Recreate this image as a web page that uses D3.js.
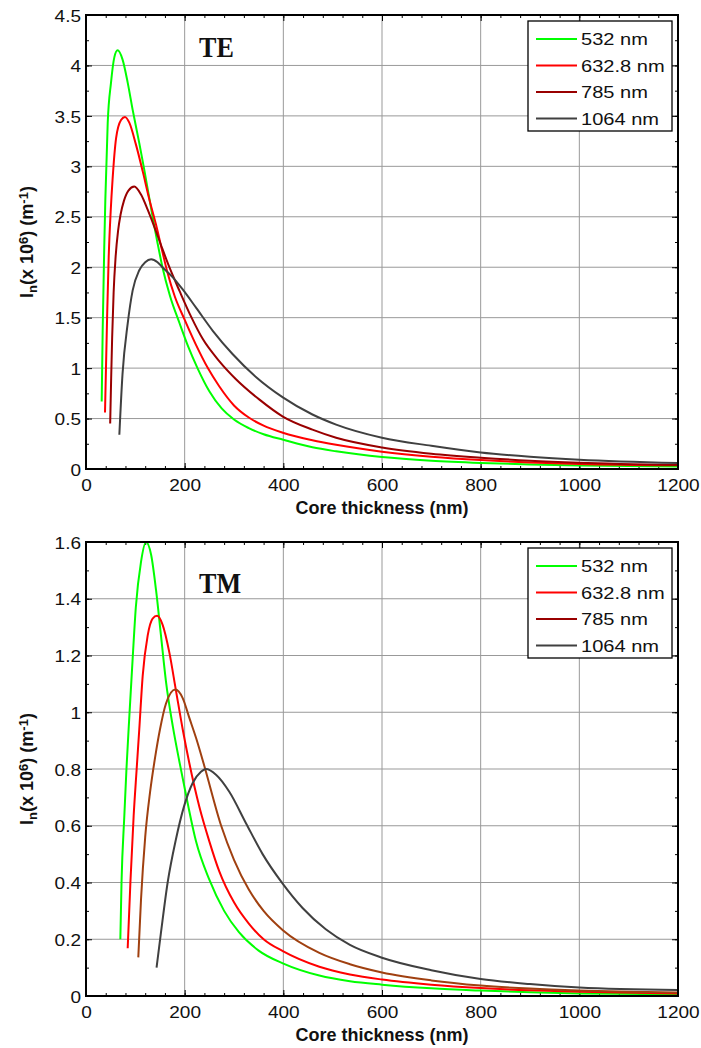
<!DOCTYPE html>
<html>
<head>
<meta charset="utf-8">
<script src="https://cdn.jsdelivr.net/npm/d3@7"></script>
<style>
  body { margin: 0; background: #fff; }
  text { font-family: "Liberation Sans", Arial, sans-serif; fill: #111; }
</style>
</head>
<body>
<div id="chart"></div>
<script>
// legend entries
const wavelengths = ['532 nm', '632.8 nm', '785 nm', '1064 nm'];

// tick labels
const xTicks = [0, 200, 400, 600, 800, 1000, 1200];
const teTicks = [0, 0.5, 1, 1.5, 2, 2.5, 3, 3.5, 4, 4.5];
const tmTicks = [0, 0.2, 0.4, 0.6, 0.8, 1, 1.2, 1.4, 1.6];

// TE mode: [core thickness (nm), In (x 10^6 m^-1)]
const te532 = [[31.8, 0.67], [33.8, 1.37], [37, 2.2], [39.2, 2.67], [44, 3.43], [50.7, 3.83], [57.4, 4.08],
  [64, 4.15], [74, 4.06], [84.5, 3.83], [94.6, 3.56], [108, 3.23], [118, 2.97], [135, 2.5], [145, 2.24],
  [155, 2.0], [170, 1.72], [190, 1.44], [207, 1.215], [226, 1.0], [250, 0.77], [275, 0.6], [300, 0.49],
  [330, 0.405], [360, 0.345], [400, 0.29], [459, 0.215], [507, 0.175], [600, 0.118], [700, 0.082],
  [800, 0.06], [900, 0.045], [1000, 0.035], [1200, 0.024]];
const te632 = [[38.5, 0.56], [40.5, 1.0], [43, 1.55], [46, 2.1], [50, 2.55], [54, 2.88], [61, 3.28], [71, 3.46],
  [79, 3.49], [88, 3.43], [101, 3.22], [115, 2.95], [128, 2.68], [142, 2.42], [155, 2.15], [165, 1.95],
  [180, 1.71], [199, 1.49], [222, 1.24], [247, 1.0], [270, 0.82], [300, 0.63], [330, 0.51], [360, 0.43],
  [399, 0.36], [459, 0.285], [507, 0.24], [600, 0.172], [700, 0.122], [800, 0.088], [900, 0.065],
  [1000, 0.05], [1200, 0.036]];
const te785 = [[49, 0.45], [51, 0.9], [53, 1.3], [56, 1.75], [60, 2.1], [65, 2.36], [70, 2.52], [77, 2.66],
  [86, 2.76], [98, 2.8], [111.5, 2.72], [125, 2.57], [138.5, 2.4], [152, 2.22], [169, 2.0], [190, 1.76],
  [213, 1.51], [236.5, 1.29], [270, 1.07], [304, 0.89], [351, 0.69], [399, 0.52], [459, 0.39], [507, 0.31],
  [600, 0.214], [700, 0.152], [800, 0.112], [900, 0.082], [1000, 0.062], [1200, 0.04]];
const te1064 = [[67.6, 0.34], [74, 0.94], [84.5, 1.44], [94.6, 1.77], [108, 1.97], [120, 2.05], [132, 2.08],
  [145, 2.05], [155, 2.0], [176, 1.9], [196, 1.78], [223, 1.6], [257, 1.37], [297, 1.14], [345, 0.91],
  [399, 0.71], [459, 0.54], [507, 0.44], [600, 0.31], [700, 0.23], [800, 0.164], [900, 0.122],
  [1000, 0.092], [1200, 0.059]];

// TM mode
const tm532 = [[69.6, 0.2], [72, 0.4], [77.7, 0.635], [82, 0.8], [88, 0.99], [94.6, 1.19], [101, 1.37],
  [111.5, 1.53], [121.6, 1.6], [132, 1.555], [142, 1.43], [152, 1.27], [162, 1.11], [176, 0.95],
  [190, 0.82], [206, 0.68], [223, 0.545], [250, 0.41], [280, 0.3], [310, 0.225], [350, 0.16], [399, 0.115],
  [473, 0.072], [535, 0.052], [600, 0.04], [700, 0.027], [800, 0.019], [900, 0.013], [1000, 0.009],
  [1200, 0.006]];
const tm632 = [[84.5, 0.168], [90, 0.4], [96.6, 0.635], [102.7, 0.8], [108, 0.94], [115, 1.13], [125, 1.27],
  [135, 1.33], [144, 1.34], [155, 1.31], [169, 1.21], [182, 1.08], [196, 0.94], [209.5, 0.82], [230, 0.665],
  [250, 0.545], [270, 0.44], [300, 0.33], [330, 0.255], [360, 0.2], [399, 0.158], [473, 0.103], [535, 0.076],
  [600, 0.058], [700, 0.04], [800, 0.028], [900, 0.02], [1000, 0.015], [1200, 0.009]];
const tm785 = [[106, 0.136], [111.5, 0.34], [120, 0.56], [130, 0.72], [140, 0.84], [150, 0.94], [162, 1.03],
  [181, 1.08], [196, 1.05], [209.5, 0.98], [223, 0.91], [240, 0.81], [274, 0.6], [300, 0.48], [330, 0.375],
  [360, 0.3], [399, 0.232], [473, 0.152], [535, 0.112], [600, 0.083], [700, 0.055], [800, 0.037],
  [900, 0.026], [1000, 0.019], [1200, 0.012]];
const tm1064 = [[143, 0.1], [152, 0.224], [165.5, 0.4], [182, 0.55], [199, 0.67], [216, 0.75], [233, 0.79],
  [243, 0.8], [263.5, 0.78], [290.5, 0.72], [324, 0.61], [358, 0.5], [399, 0.395], [439, 0.31],
  [486, 0.235], [535, 0.18], [600, 0.135], [700, 0.091], [800, 0.06], [900, 0.042], [1000, 0.03],
  [1200, 0.021]];

const legendColors = ['#00ff00', '#ff0000', '#990000', '#404040'];

const width = 701;
const height = 1048;
const left = 86;
const right = 678;

const svg = d3.select('#chart')
  .append('svg')
    .attr('width', width)
    .attr('height', height)
    .style('background', '#fff');

const x = d3.scaleLinear().domain([0, 1200]).range([left, right]);

const panels = [
  {
    top: 15, bottom: 469, yMax: 4.5, yTicks: teTicks, minorStep: 0.25,
    series: [te532, te632, te785, te1064],
    colors: ['#00ff00', '#ff0000', '#990000', '#404040'],
    title: 'TE', titleY: 57, legendY: 21, labelY: 514,
  },
  {
    top: 542, bottom: 996, yMax: 1.6, yTicks: tmTicks, minorStep: 0.1,
    series: [tm532, tm632, tm785, tm1064],
    colors: ['#00ff00', '#ff0000', '#a04010', '#404040'],
    title: 'TM', titleY: 593, legendY: 548, labelY: 1041,
  },
];

function drawPanel(p) {
  const y = d3.scaleLinear().domain([0, p.yMax]).range([p.bottom, p.top]);
  const g = svg.append('g');

  // grid
  g.append('g')
    .selectAll('line')
    .data(xTicks.slice(1, -1))
    .enter()
    .append('line')
      .attr('x1', d => x(d)).attr('x2', d => x(d))
      .attr('y1', p.top).attr('y2', p.bottom)
      .attr('stroke', '#999').attr('stroke-width', 1);
  g.append('g')
    .selectAll('line')
    .data(p.yTicks.slice(1, -1))
    .enter()
    .append('line')
      .attr('y1', d => y(d)).attr('y2', d => y(d))
      .attr('x1', left).attr('x2', right)
      .attr('stroke', '#999').attr('stroke-width', 1);

  // minor + major ticks on all four sides, pointing inward
  const xMinor = d3.range(0, 31).map(i => i * 40);
  const nMinor = Math.round(p.yMax / p.minorStep);
  const yMinor = d3.range(0, nMinor + 1).map(i => i * p.minorStep);

  const axes = [
    [d3.axisBottom(x), `translate(0,${p.bottom})`, xMinor, xTicks],
    [d3.axisTop(x), `translate(0,${p.top})`, xMinor, xTicks],
    [d3.axisLeft(y), `translate(${left},0)`, yMinor, p.yTicks],
    [d3.axisRight(y), `translate(${right},0)`, yMinor, p.yTicks],
  ];
  axes.forEach(([axis, tr, minor, major]) => {
    const a = g.append('g').attr('transform', tr);
    a.call(axis.tickValues(minor).tickSize(-3).tickSizeOuter(0).tickFormat(''));
    a.select('.domain').remove();
    const b = g.append('g').attr('transform', tr);
    b.call(axis.tickValues(major).tickSize(-6).tickSizeOuter(0).tickFormat(''));
    b.select('.domain').remove();
  });
  g.selectAll('.tick line').attr('stroke', '#000');

  // tick labels
  const xl = g.append('g')
    .attr('transform', `translate(0,${p.bottom})`)
    .call(d3.axisBottom(x).tickValues(xTicks).tickSize(0).tickFormat(d => d));
  xl.select('.domain').remove();
  xl.selectAll('text')
    .attr('y', 22).attr('dy', 0)
    .attr('transform', 'scale(1.12,1)')
    .style('font-size', '17px').style('font-family', '"Liberation Sans", Arial, sans-serif').attr('fill', '#111');

  const yl = g.append('g')
    .attr('transform', `translate(${left},0)`)
    .call(d3.axisLeft(y).tickValues(p.yTicks).tickSize(0).tickFormat(d => d));
  yl.select('.domain').remove();
  yl.selectAll('text')
    .attr('x', -5 / 1.12).attr('dy', '0.36em')
    .attr('transform', 'scale(1.12,1)')
    .style('font-size', '17px').style('font-family', '"Liberation Sans", Arial, sans-serif').attr('fill', '#111');

  // curves
  const line = d3.line()
    .x(d => x(d[0]))
    .y(d => y(d[1]))
    .curve(d3.curveMonotoneX);
  g.append('g')
    .selectAll('path')
    .data(p.series)
    .enter()
    .append('path')
      .attr('d', line)
      .attr('fill', 'none')
      .attr('stroke', (d, i) => p.colors[i])
      .attr('stroke-width', 2);

  // frame
  g.append('rect')
    .attr('x', left).attr('y', p.top)
    .attr('width', right - left).attr('height', p.bottom - p.top)
    .attr('fill', 'none').attr('stroke', '#000').attr('stroke-width', 2);

  // mode label
  g.append('text')
    .attr('transform', `translate(199,${p.titleY}) scale(0.87,1)`)
    .style('font-family', '"Liberation Serif", "Times New Roman", serif')
    .style('font-weight', 'bold')
    .style('font-size', '30px')
    .text(p.title);

  // legend
  const lg = g.append('g').attr('transform', `translate(528,${p.legendY})`);
  lg.append('rect')
    .attr('width', 144).attr('height', 110)
    .attr('fill', '#fff').attr('stroke', '#000').attr('stroke-width', 1.3);
  const rows = lg.selectAll('.row')
    .data(wavelengths)
    .enter()
    .append('g')
      .attr('class', 'row')
      .attr('transform', (d, i) => `translate(0,${18 + i * 26.5})`);
  rows.append('line')
    .attr('x1', 8).attr('x2', 49)
    .attr('stroke', (d, i) => legendColors[i])
    .attr('stroke-width', 2);
  rows.append('text')
    .attr('transform', 'translate(53,0) scale(1.18,1)')
    .attr('dy', '0.36em')
    .style('font-size', '17px')
    .text(d => d);

  // axis titles
  g.append('text')
    .attr('x', (left + right) / 2).attr('y', p.labelY)
    .attr('text-anchor', 'middle')
    .style('font-weight', 'bold').style('font-size', '18px')
    .text('Core thickness (nm)');

  const yt = g.append('text')
    .attr('transform', `translate(33,${(p.top + p.bottom) / 2}) rotate(-90)`)
    .attr('text-anchor', 'middle')
    .style('font-weight', 'bold').style('font-size', '18px');
  yt.append('tspan').text('I');
  yt.append('tspan').attr('baseline-shift', '-30%').style('font-size', '13px').text('n');
  yt.append('tspan').text('(x 10');
  yt.append('tspan').attr('baseline-shift', '40%').style('font-size', '13px').text('6');
  yt.append('tspan').text(') (m');
  yt.append('tspan').attr('baseline-shift', '40%').style('font-size', '13px').text('-1');
  yt.append('tspan').text(')');
}

panels.forEach(drawPanel);
</script>
</body>
</html>
